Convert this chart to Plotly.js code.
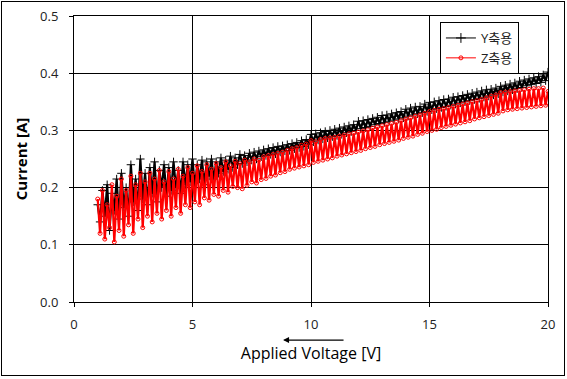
<!DOCTYPE html>
<html>
<head>
<meta charset="utf-8">
<script src="https://cdn.plot.ly/plotly-3.0.1.min.js"></script>
<style>
  html, body { margin: 0; padding: 0; background: #fff; }
  #wrap { position: relative; width: 567px; height: 379px; }
  #chart { width: 567px; height: 379px; }
  #frame { position: absolute; left: 1px; top: 1px; width: 562px; height: 373px; border: 1px solid #000; pointer-events: none; }
</style>
</head>
<body>
<div id="wrap"><div id="chart"></div><div id="frame"></div></div>
<script>
// Applied voltage [V]
const voltage = [
  1.0,1.1,1.2,1.3,1.4,1.5,1.6,1.7,1.8,1.9,
  2.0,2.1,2.2,2.3,2.4,2.5,2.6,2.7,2.8,2.9,
  3.0,3.1,3.2,3.3,3.4,3.5,3.6,3.7,3.8,3.9,
  4.0,4.1,4.2,4.3,4.4,4.5,4.6,4.7,4.8,4.9,
  5.0,5.1,5.2,5.3,5.4,5.5,5.6,5.7,5.8,5.9,
  6.0,6.1,6.2,6.3,6.4,6.5,6.6,6.7,6.8,6.9,
  7.0,7.1,7.2,7.3,7.4,7.5,7.6,7.7,7.8,7.9,
  8.0,8.1,8.2,8.3,8.4,8.5,8.6,8.7,8.8,8.9,
  9.0,9.1,9.2,9.3,9.4,9.5,9.6,9.7,9.8,9.9,
  10.0,10.1,10.2,10.3,10.4,10.5,10.6,10.7,10.8,10.9,
  11.0,11.1,11.2,11.3,11.4,11.5,11.6,11.7,11.8,11.9,
  12.0,12.1,12.2,12.3,12.4,12.5,12.6,12.7,12.8,12.9,
  13.0,13.1,13.2,13.3,13.4,13.5,13.6,13.7,13.8,13.9,
  14.0,14.1,14.2,14.3,14.4,14.5,14.6,14.7,14.8,14.9,
  15.0,15.1,15.2,15.3,15.4,15.5,15.6,15.7,15.8,15.9,
  16.0,16.1,16.2,16.3,16.4,16.5,16.6,16.7,16.8,16.9,
  17.0,17.1,17.2,17.3,17.4,17.5,17.6,17.7,17.8,17.9,
  18.0,18.1,18.2,18.3,18.4,18.5,18.6,18.7,18.8,18.9,
  19.0,19.1,19.2,19.3,19.4,19.5,19.6,19.7,19.8,19.9,
  20.0
];

// Current, Y축용 [mA]
const currentY_mA = [
  170,140,195,150,205,125,190,160,215,145,
  225,165,200,150,240,175,215,160,250,180,
  225,170,235,190,245,175,230,200,240,185,
  235,195,245,200,230,190,245,205,240,210,
  250,200,240,215,248,205,245,220,250,215,
  245,225,252,228,248,232,255,235,252,240,
  258,242,256,245,260,248,262,250,264,254,
  266,256,268,258,270,259,272,262,273,264,
  275,265,277,268,279,270,282,272,284,275,
  293,280,294,283,296,285,298,287,300,289,
  302,291,304,293,306,296,308,298,310,300,
  316,303,317,305,319,307,321,310,323,312,
  326,314,327,316,329,318,331,320,333,322,
  337,325,339,327,341,329,342,331,346,333,
  349,336,350,338,352,340,354,342,355,344,
  358,346,359,348,361,350,363,352,365,354,
  367,356,369,358,371,360,372,362,374,364,
  377,367,379,369,381,371,383,373,386,375,
  388,378,390,380,392,382,394,384,397,387,
  402
];

// Current, Z축용 [mA]
const currentZ_mA = [
  180,120,195,110,170,130,205,105,185,125,
  215,115,195,135,220,120,205,145,225,130,
  210,150,225,140,215,155,230,145,210,160,
  228,150,215,165,232,155,220,170,235,165,
  225,175,238,170,228,182,240,178,232,188,
  242,185,235,195,245,192,238,202,246,200,
  242,198,248,204,245,210,250,208,248,214,
  254,216,256,220,258,222,260,226,262,228,
  265,232,268,234,270,236,274,238,276,240,
  282,244,280,246,284,248,286,250,287,252,
  288,255,290,257,292,259,294,261,295,263,
  297,265,299,268,301,270,304,272,306,275,
  308,277,310,279,312,281,314,283,317,286,
  320,288,322,290,325,293,327,295,330,298,
  333,300,335,302,337,305,338,307,340,309,
  342,311,344,313,346,315,348,317,350,320,
  352,322,354,324,357,326,360,328,362,330,
  366,334,367,336,368,337,369,338,370,339,
  371,340,372,341,373,342,373,343,374,344,
  368
];

const seriesNames = ['Y축용', 'Z축용'];
const xTicks = [0, 5, 10, 15, 20];
const yTicks = [0.0, 0.1, 0.2, 0.3, 0.4, 0.5];

const toAmp = arr => arr.map(v => v / 1000);
const font = '"Open Sans", "Noto Sans CJK KR", sans-serif';

const styleY = { color: '#000000' };
const styleZ = { color: '#ff0000' };

const traces = [
  {
    x: voltage, y: toAmp(currentY_mA), name: seriesNames[0], type: 'scatter', mode: 'lines+markers',
    showlegend: false,
    line: { color: styleY.color, width: 2.2, simplify: false },
    marker: { symbol: 'cross-thin', size: 6, color: styleY.color, line: { color: styleY.color, width: 1 } }
  },
  {
    x: voltage, y: toAmp(currentZ_mA), name: seriesNames[1], type: 'scatter', mode: 'lines+markers',
    showlegend: false,
    line: { color: styleZ.color, width: 2.2, simplify: false },
    marker: { symbol: 'circle-open', size: 4, color: styleZ.color, line: { color: styleZ.color, width: 1 } }
  },
  // legend entries drawn with thin lines, as in the original legend
  {
    x: [null], y: [null], name: seriesNames[0], type: 'scatter', mode: 'lines+markers',
    line: { color: styleY.color, width: 1 },
    marker: { symbol: 'cross-thin', size: 7, color: styleY.color, line: { color: styleY.color, width: 1 } }
  },
  {
    x: [null], y: [null], name: seriesNames[1], type: 'scatter', mode: 'lines+markers',
    line: { color: styleZ.color, width: 1 },
    marker: { symbol: 'circle-open', size: 4, color: styleZ.color, line: { color: styleZ.color, width: 1 } }
  }
];

const layout = {
  width: 567, height: 379,
  margin: { l: 74, r: 19, t: 16, b: 77 },
  paper_bgcolor: '#ffffff', plot_bgcolor: '#ffffff',
  font: { family: font, size: 12, color: '#222' },
  showlegend: true,
  legend: {
    x: 0.772, y: 0.979, xanchor: 'left', yanchor: 'top',
    bgcolor: '#ffffff', bordercolor: '#000000', borderwidth: 1,
    font: { family: font, size: 13, color: '#222' },
    tracegroupgap: 0
  },
  xaxis: {
    range: [0, 20], tickvals: xTicks, ticktext: xTicks.map(String),
    showgrid: true, gridcolor: '#000000', gridwidth: 1,
    showline: true, linecolor: '#000000', linewidth: 1, mirror: true,
    ticks: 'outside', ticklen: 4, tickcolor: '#000000', ticklabelstandoff: 6,
    zeroline: false,
    tickfont: { family: font, size: 13, color: '#222' },
    title: { text: 'Applied Voltage [V]', font: { family: font, size: 16, color: '#000' }, standoff: 16 }
  },
  yaxis: {
    range: [0, 0.5], tickvals: yTicks, ticktext: yTicks.map(v => v.toFixed(1)),
    showgrid: true, gridcolor: '#000000', gridwidth: 1,
    showline: true, linecolor: '#000000', linewidth: 1, mirror: true,
    ticks: 'outside', ticklen: 4, tickcolor: '#000000', ticklabelstandoff: 8,
    zeroline: false,
    tickfont: { family: font, size: 13, color: '#222' },
    title: { text: '<b>Current [A]</b>', font: { family: font, size: 15, color: '#000' }, standoff: 8 }
  },
  annotations: [
    {
      xref: 'paper', yref: 'paper', x: 0.441, y: -0.133,
      ax: 62, ay: 0, showarrow: true, arrowhead: 2, arrowsize: 1, arrowwidth: 1.2,
      arrowcolor: '#000000', text: ''
    }
  ]
};

Plotly.newPlot('chart', traces, layout, { displayModeBar: false, staticPlot: true });
</script>
</body>
</html>
